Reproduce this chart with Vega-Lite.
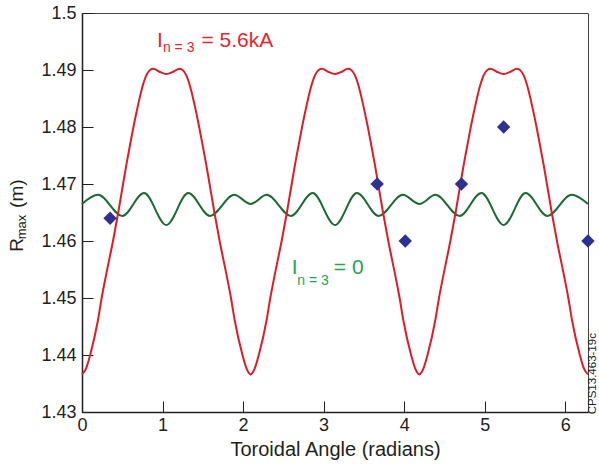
{
  "$schema": "https://vega.github.io/schema/vega-lite/v6.json",
  "width": 506,
  "height": 399,
  "autosize": {"type": "none"},
  "padding": {"left": 82, "top": 13, "right": 11, "bottom": 54},
  "background": "white",
  "view": {"stroke": "#444444", "strokeWidth": 1},
  "config": {
    "font": "Liberation Sans",
    "axis": {
      "domainColor": "#231f20", "domainWidth": 1.5, "tickColor": "#231f20", "tickWidth": 1,
      "labelColor": "#231f20", "labelFont": "Liberation Sans", "labelFontSize": 18,
      "titleColor": "#231f20", "titleFont": "Liberation Sans", "titleFontSize": 20, "titleFontWeight": "normal",
      "grid": false, "labelFlush": false
    }
  },
  "datasets": {
    "red": [
      {"angle": 0, "rmax": 1.4366}, {"angle": 0.05, "rmax": 1.4376}, {"angle": 0.103, "rmax": 1.4401}, {"angle": 0.198, "rmax": 1.4461},
      {"angle": 0.244, "rmax": 1.45}, {"angle": 0.3, "rmax": 1.4541}, {"angle": 0.385, "rmax": 1.46}, {"angle": 0.45, "rmax": 1.465},
      {"angle": 0.51, "rmax": 1.47}, {"angle": 0.555, "rmax": 1.4737}, {"angle": 0.596, "rmax": 1.4768}, {"angle": 0.65, "rmax": 1.4808},
      {"angle": 0.7, "rmax": 1.4841}, {"angle": 0.753, "rmax": 1.4872}, {"angle": 0.8, "rmax": 1.4891}, {"angle": 0.845, "rmax": 1.49},
      {"angle": 0.885, "rmax": 1.4902}, {"angle": 0.96, "rmax": 1.4897}, {"angle": 1.047, "rmax": 1.4893}, {"angle": 1.134, "rmax": 1.4897},
      {"angle": 1.209, "rmax": 1.4902}, {"angle": 1.249, "rmax": 1.49}, {"angle": 1.294, "rmax": 1.4891}, {"angle": 1.341, "rmax": 1.4872},
      {"angle": 1.394, "rmax": 1.4841}, {"angle": 1.444, "rmax": 1.4808}, {"angle": 1.498, "rmax": 1.4768}, {"angle": 1.539, "rmax": 1.4737},
      {"angle": 1.584, "rmax": 1.47}, {"angle": 1.644, "rmax": 1.465}, {"angle": 1.709, "rmax": 1.46}, {"angle": 1.794, "rmax": 1.4541},
      {"angle": 1.85, "rmax": 1.45}, {"angle": 1.896, "rmax": 1.4461}, {"angle": 1.991, "rmax": 1.4401}, {"angle": 2.044, "rmax": 1.4376},
      {"angle": 2.094, "rmax": 1.4366},
      {"angle": 2.144, "rmax": 1.4376}, {"angle": 2.197, "rmax": 1.4401}, {"angle": 2.292, "rmax": 1.4461}, {"angle": 2.338, "rmax": 1.45},
      {"angle": 2.394, "rmax": 1.4541}, {"angle": 2.479, "rmax": 1.46}, {"angle": 2.544, "rmax": 1.465}, {"angle": 2.604, "rmax": 1.47},
      {"angle": 2.649, "rmax": 1.4737}, {"angle": 2.69, "rmax": 1.4768}, {"angle": 2.744, "rmax": 1.4808}, {"angle": 2.794, "rmax": 1.4841},
      {"angle": 2.847, "rmax": 1.4872}, {"angle": 2.894, "rmax": 1.4891}, {"angle": 2.939, "rmax": 1.49}, {"angle": 2.979, "rmax": 1.4902},
      {"angle": 3.054, "rmax": 1.4897}, {"angle": 3.142, "rmax": 1.4893}, {"angle": 3.228, "rmax": 1.4897}, {"angle": 3.303, "rmax": 1.4902},
      {"angle": 3.343, "rmax": 1.49}, {"angle": 3.388, "rmax": 1.4891}, {"angle": 3.435, "rmax": 1.4872}, {"angle": 3.488, "rmax": 1.4841},
      {"angle": 3.538, "rmax": 1.4808}, {"angle": 3.592, "rmax": 1.4768}, {"angle": 3.633, "rmax": 1.4737}, {"angle": 3.678, "rmax": 1.47},
      {"angle": 3.738, "rmax": 1.465}, {"angle": 3.803, "rmax": 1.46}, {"angle": 3.888, "rmax": 1.4541}, {"angle": 3.944, "rmax": 1.45},
      {"angle": 3.99, "rmax": 1.4461}, {"angle": 4.085, "rmax": 1.4401}, {"angle": 4.138, "rmax": 1.4376}, {"angle": 4.189, "rmax": 1.4366},
      {"angle": 4.239, "rmax": 1.4376}, {"angle": 4.292, "rmax": 1.4401}, {"angle": 4.387, "rmax": 1.4461}, {"angle": 4.433, "rmax": 1.45},
      {"angle": 4.489, "rmax": 1.4541}, {"angle": 4.574, "rmax": 1.46}, {"angle": 4.639, "rmax": 1.465}, {"angle": 4.699, "rmax": 1.47},
      {"angle": 4.744, "rmax": 1.4737}, {"angle": 4.785, "rmax": 1.4768}, {"angle": 4.839, "rmax": 1.4808}, {"angle": 4.889, "rmax": 1.4841},
      {"angle": 4.942, "rmax": 1.4872}, {"angle": 4.989, "rmax": 1.4891}, {"angle": 5.034, "rmax": 1.49}, {"angle": 5.074, "rmax": 1.4902},
      {"angle": 5.149, "rmax": 1.4897}, {"angle": 5.236, "rmax": 1.4893}, {"angle": 5.323, "rmax": 1.4897}, {"angle": 5.398, "rmax": 1.4902},
      {"angle": 5.438, "rmax": 1.49}, {"angle": 5.483, "rmax": 1.4891}, {"angle": 5.53, "rmax": 1.4872}, {"angle": 5.583, "rmax": 1.4841},
      {"angle": 5.633, "rmax": 1.4808}, {"angle": 5.687, "rmax": 1.4768}, {"angle": 5.728, "rmax": 1.4737}, {"angle": 5.773, "rmax": 1.47},
      {"angle": 5.833, "rmax": 1.465}, {"angle": 5.898, "rmax": 1.46}, {"angle": 5.983, "rmax": 1.4541}, {"angle": 6.039, "rmax": 1.45},
      {"angle": 6.085, "rmax": 1.4461}, {"angle": 6.18, "rmax": 1.4401}, {"angle": 6.233, "rmax": 1.4376}, {"angle": 6.283, "rmax": 1.4366}
    ],
    "green": [
      {"angle": 0, "rmax": 1.4665}, {"angle": 0.2, "rmax": 1.4681}, {"angle": 0.5, "rmax": 1.4644}, {"angle": 0.77, "rmax": 1.4684},
      {"angle": 1.047, "rmax": 1.4628}, {"angle": 1.32, "rmax": 1.4684}, {"angle": 1.59, "rmax": 1.4644}, {"angle": 1.89, "rmax": 1.4681},
      {"angle": 2.094, "rmax": 1.4665}, {"angle": 2.294, "rmax": 1.4681}, {"angle": 2.594, "rmax": 1.4644}, {"angle": 2.864, "rmax": 1.4684},
      {"angle": 3.142, "rmax": 1.4628}, {"angle": 3.414, "rmax": 1.4684}, {"angle": 3.684, "rmax": 1.4644}, {"angle": 3.984, "rmax": 1.4681},
      {"angle": 4.189, "rmax": 1.4665}, {"angle": 4.389, "rmax": 1.4681}, {"angle": 4.689, "rmax": 1.4644}, {"angle": 4.959, "rmax": 1.4684},
      {"angle": 5.236, "rmax": 1.4628}, {"angle": 5.509, "rmax": 1.4684}, {"angle": 5.779, "rmax": 1.4644}, {"angle": 6.079, "rmax": 1.4681},
      {"angle": 6.283, "rmax": 1.4665}
    ],
    "measured": [
      {"angle": 0.349, "rmax": 1.464}, {"angle": 3.665, "rmax": 1.47}, {"angle": 4.014, "rmax": 1.46},
      {"angle": 4.712, "rmax": 1.47}, {"angle": 5.236, "rmax": 1.48}, {"angle": 6.283, "rmax": 1.46}
    ],
    "labels": [
      {"id": "redMain", "angle": 0.93, "rmax": 1.494, "text": "I"},
      {"id": "redSub", "angle": 1.005, "rmax": 1.4931, "text": "n = 3"},
      {"id": "redMain", "angle": 1.483, "rmax": 1.494, "text": "= 5.6kA"},
      {"id": "greenMain", "angle": 2.605, "rmax": 1.4542, "text": "I"},
      {"id": "greenSub", "angle": 2.674, "rmax": 1.4523, "text": "n = 3"},
      {"id": "greenMain", "angle": 3.127, "rmax": 1.4542, "text": "= 0"},
      {"id": "yMain", "angle": -0.732, "rmax": 1.4581, "text": "R"},
      {"id": "ySub", "angle": -0.695, "rmax": 1.4603, "text": "max"},
      {"id": "yMain", "angle": -0.732, "rmax": 1.4658, "text": "(m)"},
      {"id": "note", "angle": 6.385, "rmax": 1.4296, "text": "CPS13.463-19c"}
    ]
  },
  "encoding": {
    "x": {"field": "angle", "type": "quantitative", "scale": {"domain": [0, 6.2832], "nice": false, "zero": false},
      "axis": {"values": [0, 1, 2, 3, 4, 5, 6], "format": "d", "tickSize": -11, "labelPadding": 15.5, "title": "Toroidal Angle (radians)", "titlePadding": 5}},
    "y": {"field": "rmax", "type": "quantitative", "scale": {"domain": [1.43, 1.5], "nice": false, "zero": false},
      "axis": {"values": [1.43, 1.44, 1.45, 1.46, 1.47, 1.48, 1.49, 1.5], "format": ".2~f", "tickSize": -11, "labelPadding": 17, "title": null}}
  },
  "layer": [
    {"data": {"name": "green"}, "mark": {"type": "line", "color": "#1c6b36", "strokeWidth": 2, "interpolate": "monotone"}},
    {"data": {"name": "red"}, "mark": {"type": "line", "color": "#d81f2a", "strokeWidth": 2, "interpolate": "monotone"}},
    {"data": {"name": "measured"}, "mark": {"type": "point", "shape": "diamond", "filled": true, "size": 180, "color": "#2e3192", "opacity": 1}},
    {"data": {"name": "labels"}, "transform": [{"filter": "datum.id === 'redMain'"}],
      "mark": {"type": "text", "align": "left", "baseline": "alphabetic", "fontSize": 21, "color": "#e3262f"},
      "encoding": {"text": {"field": "text"}}},
    {"data": {"name": "labels"}, "transform": [{"filter": "datum.id === 'redSub'"}],
      "mark": {"type": "text", "align": "left", "baseline": "alphabetic", "fontSize": 14, "color": "#e3262f"},
      "encoding": {"text": {"field": "text"}}},
    {"data": {"name": "labels"}, "transform": [{"filter": "datum.id === 'greenMain'"}],
      "mark": {"type": "text", "align": "left", "baseline": "alphabetic", "fontSize": 21, "color": "#1fa64c"},
      "encoding": {"text": {"field": "text"}}},
    {"data": {"name": "labels"}, "transform": [{"filter": "datum.id === 'greenSub'"}],
      "mark": {"type": "text", "align": "left", "baseline": "alphabetic", "fontSize": 14, "color": "#1fa64c"},
      "encoding": {"text": {"field": "text"}}},
    {"data": {"name": "labels"}, "transform": [{"filter": "datum.id === 'yMain'"}],
      "mark": {"type": "text", "align": "left", "baseline": "alphabetic", "angle": 270, "fontSize": 19, "color": "#231f20"},
      "encoding": {"text": {"field": "text"}}},
    {"data": {"name": "labels"}, "transform": [{"filter": "datum.id === 'ySub'"}],
      "mark": {"type": "text", "align": "left", "baseline": "alphabetic", "angle": 270, "fontSize": 13, "color": "#231f20"},
      "encoding": {"text": {"field": "text"}}},
    {"data": {"name": "labels"}, "transform": [{"filter": "datum.id === 'note'"}],
      "mark": {"type": "text", "align": "left", "baseline": "alphabetic", "angle": 270, "fontSize": 11.5, "color": "#231f20"},
      "encoding": {"text": {"field": "text"}}}
  ]
}
